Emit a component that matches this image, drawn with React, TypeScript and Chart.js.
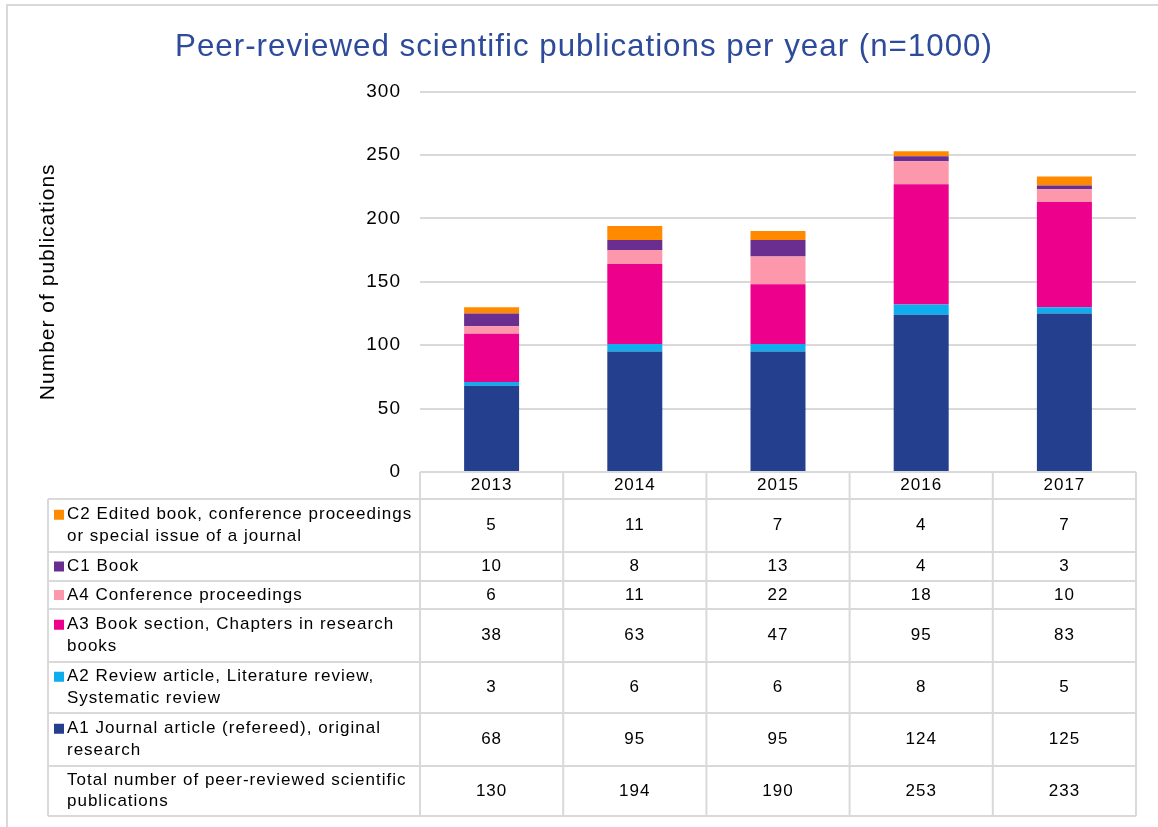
import React, { useEffect, useRef } from 'react';
import { Chart, registerables } from 'chart.js';

Chart.register(...registerables);

// ---------- data ----------
const years = ['2013', '2014', '2015', '2016', '2017'];
const a1Values = [68, 95, 95, 124, 125];
const a2Values = [3, 6, 6, 8, 5];
const a3Values = [38, 63, 47, 95, 83];
const a4Values = [6, 11, 22, 18, 10];
const c1Values = [10, 8, 13, 4, 3];
const c2Values = [5, 11, 7, 4, 7];
const totalValues = [130, 194, 190, 253, 233];

const a1Label = ['A1 Journal article (refereed), original', 'research'];
const a2Label = ['A2 Review article, Literature review,', 'Systematic review'];
const a3Label = ['A3 Book section, Chapters in research', 'books'];
const a4Label = ['A4 Conference proceedings'];
const c1Label = ['C1 Book'];
const c2Label = ['C2 Edited book, conference proceedings', 'or special issue of a journal'];
const totalLabel = ['Total number of peer-reviewed scientific', 'publications'];

const chartTitle = 'Peer-reviewed scientific publications per year (n=1000)';
const yAxisTitle = 'Number of publications';

// ---------- styles ----------
const FONT = '"Liberation Sans", Arial, sans-serif';
const COLORS = {
  a1: '#243F8E',
  a2: '#0DADEE',
  a3: '#EC008C',
  a4: '#FD97AB',
  c1: '#6A2E91',
  c2: '#FF8A00',
};
const GRID = '#d9d9d9';
// row boundaries of the data table, offsets below the x axis
const ROW_OFFSETS = [0, 27, 80, 109, 137, 190, 241, 294, 344];
const TABLE_LEFT = 48;
const LINE_H = 21.5;

const series = [
  { key: 'a1', lines: a1Label, data: a1Values, color: COLORS.a1 },
  { key: 'a2', lines: a2Label, data: a2Values, color: COLORS.a2 },
  { key: 'a3', lines: a3Label, data: a3Values, color: COLORS.a3 },
  { key: 'a4', lines: a4Label, data: a4Values, color: COLORS.a4 },
  { key: 'c1', lines: c1Label, data: c1Values, color: COLORS.c1 },
  { key: 'c2', lines: c2Label, data: c2Values, color: COLORS.c2 },
];

const spacingPlugin = {
  id: 'spacing',
  beforeDraw(chart: any) {
    chart.ctx.letterSpacing = '1px';
  },
};

const tablePlugin = {
  id: 'dataTable',
  afterDraw(chart: any) {
    const { ctx, chartArea, scales } = chart;
    const xs = scales.x;
    const top = chartArea.bottom;
    const bounds = ROW_OFFSETS.map((o) => top + o);
    const last = bounds[bounds.length - 1];
    const n = years.length;
    const colW = (chartArea.right - chartArea.left) / n;

    ctx.save();
    ctx.letterSpacing = '1px';
    // outer frame
    ctx.strokeStyle = GRID;
    ctx.lineWidth = 2;
    ctx.beginPath();
    ctx.moveTo(7, 1200);
    ctx.lineTo(7, 5);
    ctx.lineTo(chart.width + 10, 5);
    ctx.stroke();

    // table grid
    ctx.beginPath();
    ctx.moveTo(chartArea.left, top);
    ctx.lineTo(chartArea.right, top);
    for (let i = 1; i < bounds.length; i++) {
      ctx.moveTo(TABLE_LEFT, bounds[i]);
      ctx.lineTo(chartArea.right, bounds[i]);
    }
    for (let j = 0; j < n; j++) {
      const cx = xs.getPixelForValue(j);
      const lx = cx - colW / 2;
      ctx.moveTo(lx, top);
      ctx.lineTo(lx, last);
      if (j === n - 1) {
        ctx.moveTo(cx + colW / 2, top);
        ctx.lineTo(cx + colW / 2, last);
      }
    }
    ctx.moveTo(TABLE_LEFT, bounds[1]);
    ctx.lineTo(TABLE_LEFT, last);
    ctx.stroke();

    // rows
    const rows = [
      ...series.slice().reverse().map((s) => ({ lines: s.lines, data: s.data, color: s.color as string | null })),
      { lines: totalLabel, data: totalValues, color: null },
    ];
    ctx.font = `17px ${FONT}`;
    ctx.fillStyle = '#000';
    ctx.textBaseline = 'middle';
    rows.forEach((row, i) => {
      const y0 = bounds[i + 1];
      const y1 = bounds[i + 2];
      const cy = (y0 + y1) / 2;
      const nl = row.lines.length;
      row.lines.forEach((line, k) => {
        const ly = cy + (k - (nl - 1) / 2) * LINE_H;
        if (k === 0 && row.color) {
          ctx.fillStyle = row.color;
          ctx.fillRect(54, ly - 5, 10, 10);
        }
        ctx.fillStyle = '#000';
        ctx.textAlign = 'left';
        ctx.fillText(line, 67, ly);
      });
      row.data.forEach((v, j) => {
        ctx.textAlign = 'center';
        ctx.fillText(String(v), xs.getPixelForValue(j), cy);
      });
    });
    ctx.restore();
  },
};

export default function App() {
  const canvasRef = useRef<HTMLCanvasElement | null>(null);

  useEffect(() => {
    if (!canvasRef.current) return;
    const chart = new Chart(canvasRef.current, {
      type: 'bar',
      data: {
        labels: years,
        datasets: series.map((s) => ({
          label: s.lines.join(' '),
          data: s.data,
          backgroundColor: s.color,
          borderWidth: 0,
          categoryPercentage: 1,
          barPercentage: 0.384,
        })),
      },
      options: {
        animation: false,
        responsive: true,
        maintainAspectRatio: false,
        layout: { padding: { left: 32, right: 22, top: 0, bottom: 0 } },
        plugins: {
          legend: { display: false },
          tooltip: { enabled: false },
          title: {
            display: true,
            text: chartTitle,
            color: '#2E4B9B',
            font: { family: FONT, size: 31.3, weight: 'normal' },
            padding: { top: 29, bottom: 25 },
          },
        },
        scales: {
          x: {
            stacked: true,
            grid: { display: false, drawTicks: false },
            border: { display: false },
            ticks: { color: '#000', font: { family: FONT, size: 17 }, padding: 3 },
            afterFit: (scale: any) => {
              scale.height = 355;
            },
          },
          y: {
            stacked: true,
            min: 0,
            max: 300,
            ticks: { stepSize: 50, color: '#000', font: { family: FONT, size: 19 }, padding: 19 },
            grid: { color: GRID, lineWidth: 2, drawTicks: false },
            border: { display: false },
            title: {
              display: true,
              text: yAxisTitle,
              color: '#000',
              font: { family: FONT, size: 21 },
              padding: { top: 4, bottom: 0 },
            },
            afterFit: (scale: any) => {
              scale.width = 388;
            },
          },
        },
      } as any,
      plugins: [spacingPlugin, tablePlugin],
    });
    return () => chart.destroy();
  }, []);

  return (
    <div style={{ position: 'fixed', left: 0, top: 0, width: 1158, height: 827, background: '#fff' }}>
      <canvas ref={canvasRef} />
    </div>
  );
}
